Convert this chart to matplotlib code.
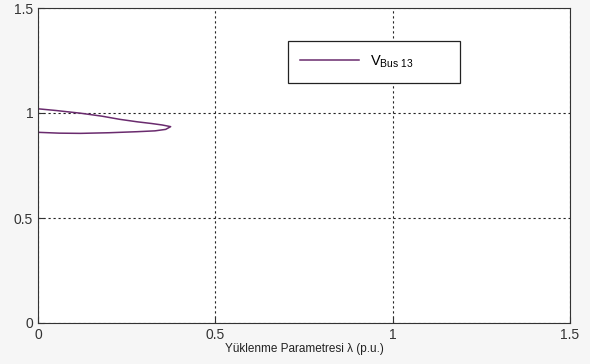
import matplotlib.pyplot as plt

plt.rcParams['font.family'] = ['Liberation Sans', 'DejaVu Sans']
plt.rcParams['mathtext.fontset'] = 'custom'
plt.rcParams['mathtext.rm'] = 'Liberation Sans'

# PV curve (nose curve) for bus 13
lam_upper = [0.0, 0.05, 0.12, 0.18, 0.23, 0.28, 0.32, 0.35, 0.374]
v_upper = [1.02, 1.012, 0.999, 0.985, 0.970, 0.958, 0.950, 0.943, 0.935]
lam_lower = [0.374, 0.36, 0.33, 0.28, 0.2, 0.12, 0.06, 0.0]
v_lower = [0.935, 0.922, 0.915, 0.911, 0.906, 0.903, 0.904, 0.908]

lam = lam_upper + lam_lower
v = v_upper + v_lower

xticks = [0, 0.5, 1, 1.5]
yticks = [0, 0.5, 1, 1.5]

fig = plt.figure(figsize=(5.9, 3.64), dpi=100, facecolor='#f6f6f6')
ax = fig.add_axes([38/590, 1 - 323/364, 532/590, 315/364])

# trailing spaces leave the empty room on the right of the legend box
ax.plot(lam, v, color='#6a2b6e', linewidth=1.1,
        label=r'V$_{\mathregular{Bus\ 13}}$' + ' ' * 9)

ax.set_xlim(0, 1.5)
ax.set_ylim(0, 1.5)
ax.set_xticks(xticks)
ax.set_yticks(yticks)
ax.set_xticklabels(['0', '0.5', '1', '1.5'])
ax.set_yticklabels(['0', '0.5', '1', '1.5'])
ax.tick_params(direction='in', labelsize=10, colors='#333333', length=4)
ax.grid(True, color='#222222', linestyle=(0, (2, 2.5)), linewidth=0.8)
for s in ax.spines.values():
    s.set_color('#333333')

ax.set_xlabel('Yüklenme Parametresi λ (p.u.)', fontsize=8.5, labelpad=1, color='#222222')

leg = ax.legend(loc='upper left', bbox_to_anchor=(0.47, 0.895), fontsize=10.5,
                handlelength=4.0, borderpad=0.85, fancybox=False,
                framealpha=1, edgecolor='#222222', borderaxespad=0)
leg.get_frame().set_linewidth(0.9)

fig.savefig('out.png', dpi=100, facecolor=fig.get_facecolor())
